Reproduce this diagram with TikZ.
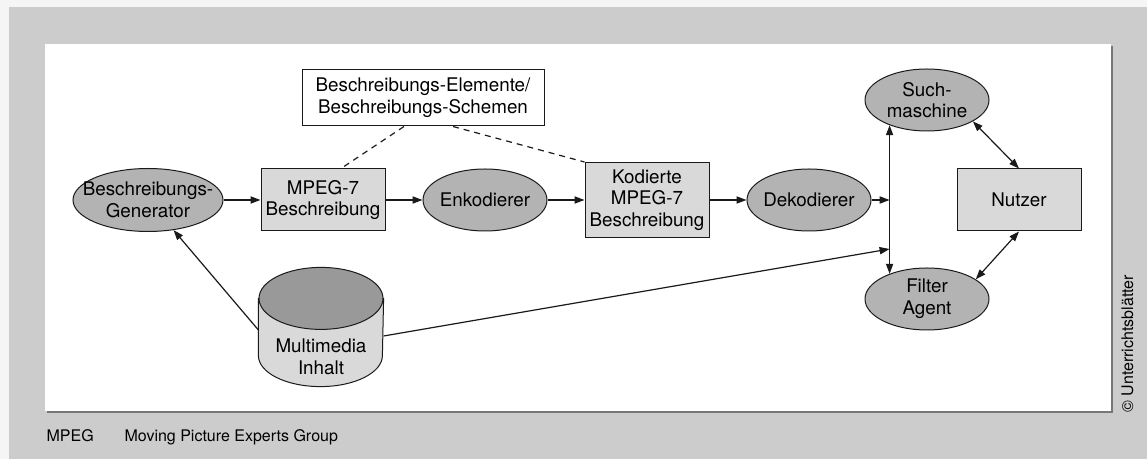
\documentclass[tikz,border=0pt]{standalone}
\usepackage{fontspec}
\setmainfont{TeX Gyre Heros}
\usetikzlibrary{positioning}
\usetikzlibrary{shapes.geometric, arrows.meta}
\definecolor{ovalgray}{HTML}{B3B3B3}
\definecolor{boxgray}{HTML}{D9D9D9}
\definecolor{endgray}{HTML}{999999}
\definecolor{framegray}{HTML}{CCCCCC}
\definecolor{shadowgray}{HTML}{777777}
\definecolor{linegray}{HTML}{1A1A1A}

\begin{document}
\begin{tikzpicture}[->,>={Triangle[length=5pt,width=3.6pt]},x=0.5pt,y=-0.5pt,
  font=\fontsize{9.4}{10.8}\selectfont,line width=0.6pt,
  main/.style = {draw=linegray, ellipse, fill=ovalgray, minimum width=62pt, minimum height=31pt, line width=0.5pt},
  rect/.style = {draw=linegray, rectangle, fill=boxgray, inner sep=0pt, minimum width=62pt, minimum height=31pt, align=center, line width=0.5pt},
  small/.style = {anchor=base west, inner sep=0pt, font=\fontsize{8}{9.6}\selectfont},
  node distance=18.5pt]
        % frame
        \fill[gray!8] (0,0) rectangle (1147,459);
        \fill[framegray] (9,7) rectangle (1147,459);
        \fill[shadowgray] (47,46) rectangle (1113,413);
        \fill[white] (45,44) rectangle (1111,411);
        % nodes
        \node[main, minimum width=75pt, minimum height=31.5pt, label={[align=center]center:Beschreibungs-\\Generator}] (1) at (148,200) {};
        \node[rect, right=of 1] (2) {MPEG-7\\Beschreibung};
        \node[main, right=of 2, label=center:Enkodierer] (3) {};
        \node[rect, right=of 3, minimum height=37.5pt] (4) {Kodierte\\MPEG-7\\Beschreibung};
        \node[main, right=of 4, label=center:Dekodierer] (5) {};
        \node[main, label={[align=center]center:Such-\\maschine}] (6) at (927,100) {};
        \node[main, label={[align=center]center:Filter\\Agent}] (7) at (927,299) {};
        \node[rect] (8) at (1019,200) {Nutzer};
        \node[rect, fill=white, minimum width=121pt, minimum height=28pt] (9) at (423,98) {Beschreibungs-Elemente/\\Beschreibungs-Schemen};
        % cylinder
        \node[minimum width=62pt, minimum height=59pt, inner sep=0pt] (10) at (321,327) {};
        \filldraw[-, fill=boxgray, draw=linegray, line width=0.5pt] ([yshift=-15.5pt]10.north west) -- ([yshift=15.5pt]10.south west)
          arc[start angle=180, end angle=360, x radius=31pt, y radius=15.5pt] -- ([yshift=-15.5pt]10.north east) -- cycle;
        \filldraw[-, fill=endgray, draw=linegray, line width=0.5pt] ([yshift=-15.5pt]10.north) ellipse[x radius=31pt, y radius=15.5pt];
        \node[align=center] (15) at (321,357) {Multimedia\\Inhalt};
        \coordinate (11) at (0,249);
        % notes
        \node[small] (12) at (46,442) {MPEG};
        \node[small] (13) at (124,442) {Moving Picture Experts Group};
        \node[small, rotate=90] (14) at (1133,413) {\textcopyright{} Unterrichtsblätter};
        \path[color=linegray]
        (1) edge (2)
        (2) edge (3)
        (3) edge (4)
        (4) edge (5)
        (5) edge (5 -| 6.214)
        (6.214) edge[<->] (6.214 |- 7.146)
        (6.335) edge[<->] (8.north)
        (7.22) edge[<->] (8.south)
        ([yshift=-1.5pt]10.west) edge (1)
        ([yshift=-4.5pt]10.east) edge (6.214 |- 11)
        ([xshift=-9.5pt]9.south) edge[-, dash pattern=on 3pt off 2.5pt] ([xshift=9pt]2.north)
        ([xshift=15pt]9.south) edge[-, dash pattern=on 3pt off 2.5pt] (4.north west);
      \end{tikzpicture}
\end{document}
